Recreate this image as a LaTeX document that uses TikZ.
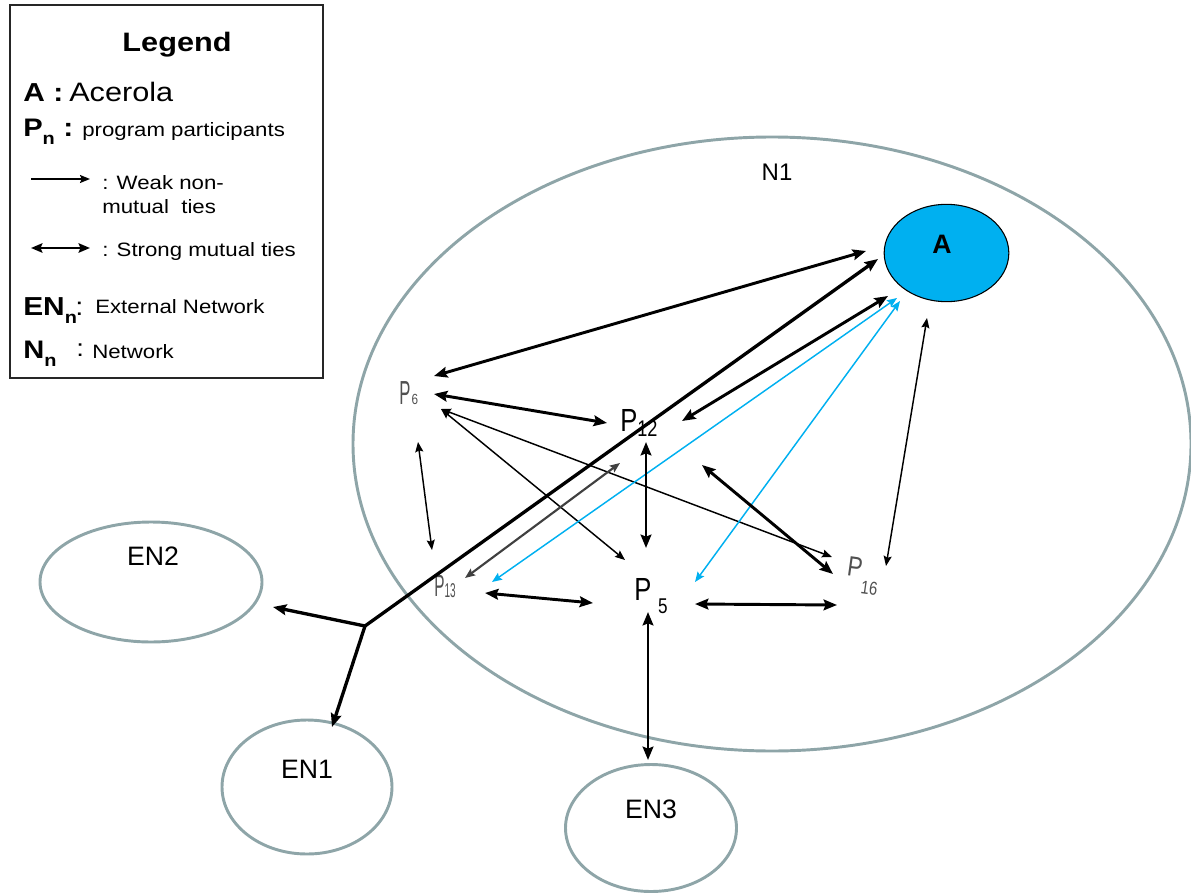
\documentclass[tikz,border=0pt]{standalone}
\usepackage{fontspec}
\setmainfont{Liberation Sans}
\newfontfamily\legfont[FakeStretch=1.15]{Liberation Sans}
\newfontfamily\condfont[FakeStretch=0.5]{Liberation Sans}
\newfontfamily\semifont[FakeStretch=0.8]{Liberation Sans}
\usetikzlibrary{arrows.meta,shapes.geometric}
\definecolor{ringgray}{HTML}{8EA5A8}
\definecolor{acerola}{HTML}{00B0F0}
\definecolor{labgray}{HTML}{505050}
\newcommand\fs[1]{\fontsize{#1}{#1}\selectfont}

\begin{document}
\begin{tikzpicture}[x=0.75pt,y=-0.75pt,
  ring/.style={draw=ringgray, line width=2.2pt, ellipse, inner sep=0pt},
  lg/.style={anchor=base west, inner sep=0pt, font=\legfont},
  lab/.style={inner sep=0pt, anchor=base west},
  bigtip/.tip={Stealth[length=10pt,width=8pt,inset=1.5pt]},
  smalltip/.tip={Stealth[length=7.5pt,width=6pt,inset=1.2pt]},
  strong/.style={line width=2.2pt, bigtip-bigtip},
  weak/.style={line width=1.1pt, smalltip-smalltip},
  bluetie/.style={line width=1.1pt, draw=acerola, smalltip-smalltip},
  greytie/.style={line width=1.6pt, draw=black!75, smalltip-smalltip},
  feed/.style={line width=2.5pt, -bigtip},
  oneway/.style={line width=1pt, -smalltip}]

\useasboundingbox (0,0) rectangle (1191,895);

% ---------------- legend ----------------
\node[draw=black!85, line width=0.9pt, minimum width=234.75pt, minimum height=279.75pt,
      inner sep=0pt] (legbox) at (166.5,191.5) {};
\node[lg, anchor=base] (legtitle) at (177,52) {\fs{20}\bfseries Legend};
\node[lg] (legA) at (23,102) {\fs{19.5}\bfseries A};
\node[lg] (legAc) at (53,102) {\fs{19.5}\bfseries :};
\node[lg] (legAt) at (69,102) {\fs{20}Acerola};
\node[lg] (legP) at (23,137) {\fs{19}\bfseries P\raisebox{-6pt}{\fs{13}n}};
\node[lg] (legPc) at (63,137) {\fs{19.5}\bfseries :};
\node[lg] (legPt) at (82,137) {\fs{14.5}program participants};
\coordinate (lw1) at (31,179);
\coordinate (lw2) at (90,179);
\draw[oneway] (lw1) -- (lw2);
\node[lg] (legW1) at (102,189) {\fs{14.5}: Weak non-};
\node[lg] (legW2) at (102,213) {\fs{14.5}mutual\ \ ties};
\coordinate (ls1) at (31,248);
\coordinate (ls2) at (90,248);
\draw[line width=1.9pt, {Stealth[length=8.5pt,width=7pt,inset=1.3pt]}-{Stealth[length=8.5pt,width=7pt,inset=1.3pt]}] (ls1) -- (ls2);
\node[lg] (legS) at (102,256) {\fs{14.5}: Strong mutual ties};
\node[lg] (legEN) at (23,315) {\fs{19.5}\bfseries EN\raisebox{-6pt}{\fs{13}n}};
\node[lg] (legENc) at (75,315) {\fs{19}:};
\node[lg] (legENt) at (95,313) {\fs{14.5}External Network};
\node[lg] (legN) at (23,358) {\fs{19}\bfseries N\raisebox{-6pt}{\fs{13}n}};
\node[lg] (legNc) at (76,356) {\fs{18}:};
\node[lg] (legNt) at (92,358) {\fs{14.5}Network};

% ---------------- networks ----------------
\node[ring, minimum width=628.5pt, minimum height=460.5pt] (n1) at (772,444) {};
\node[font=\fs{18}] (n1lab) at (777,172) {N1};
\node[ring, minimum width=166.5pt, minimum height=90pt] (en2) at (151,582) {};
\node[font=\fs{20}] (en2lab) at (153,556) {EN2};
\node[ring, minimum width=127.5pt, minimum height=100.5pt] (en1) at (307,787) {};
\node[font=\fs{20}] (en1lab) at (307,769) {EN1};
\node[ring, minimum width=128.25pt, minimum height=95.25pt] (en3) at (651,828) {};
\node[font=\fs{20}] (en3lab) at (651,809) {EN3};

% ---------------- actors ----------------
\node[ellipse, draw=black, line width=0.8pt, fill=acerola, minimum width=93.5pt,
      minimum height=73pt, inner sep=0pt] (A) at (946.5,253) {};
\node[font=\fs{20}\bfseries] (Alab) at (942,244) {A};

\node[lab, text=labgray] (p6) at (399,404)
  {\condfont\fs{25}P\hspace{1pt}\semifont\fs{11}6};
\node[lab] (p12) at (620,431)
  {\semifont\fs{24}P\raisebox{-4pt}{\fs{17}12}};
\node[lab, text=labgray] (p13) at (434,596)
  {\condfont\fs{23}P\raisebox{-1pt}{\fs{15}13}};
\node[lab] (p5) at (634,600)
  {\semifont\fs{24}P\hspace{5pt}\raisebox{-10pt}{\fs{16}5}};
\node[lab, text=labgray, rotate=-8] (p16) at (846,575)
  {\semifont\fs{21}P\hspace{1pt}\raisebox{-12pt}{\fs{14}16}};

% ---------------- tie end points ----------------
\coordinate (A-p6)   at (866,251);
\coordinate (A-j)    at (878,259);
\coordinate (A-p12)  at (888,296);
\coordinate (A-p13)  at (897,298);
\coordinate (A-p5)   at (900,301);
\coordinate (A-p16)  at (927,318);

\coordinate (p6-A)   at (434,376);
\coordinate (p6-p12) at (434,394);
\coordinate (p6-low) at (441,409);
\coordinate (p6-p13) at (418,442);

\coordinate (p12-p6) at (607,423);
\coordinate (p12-A)  at (682,421);
\coordinate (p12-p5) at (646,442);
\coordinate (p12-p13) at (620,463);
\coordinate (p12-p16) at (702,465);

\coordinate (p13-p6) at (432,550);
\coordinate (p13-p12) at (465,578);
\coordinate (p13-A)  at (492,582);
\coordinate (p13-p5) at (485,593);

\coordinate (p5-p6)  at (625,560);
\coordinate (p5-p12) at (646,548);
\coordinate (p5-p13) at (593,603);
\coordinate (p5-A)   at (695,582);
\coordinate (p5-p16) at (695,604);
\coordinate (p5-en3) at (648,612);

\coordinate (p16-p6) at (832,557);
\coordinate (p16-p12) at (833,574);
\coordinate (p16-A)  at (886,566);
\coordinate (p16-p5) at (837,605);

\coordinate (en3-p5) at (648,760);
\coordinate (en2-in) at (273,607);
\coordinate (en1-in) at (332,727);
\coordinate (split)  at (365,626);

% ---------------- ties ----------------
\draw[strong] (A-p6) -- (p6-A);
\draw[strong] (A-p12) -- (p12-A);
\draw[strong] (p6-p12) -- (p12-p6);
\draw[weak] (p6-low) -- (p5-p6);
\draw[weak] (p6-low) -- (p16-p6);
\draw[weak] (p6-p13) -- (p13-p6);
\draw[weak] (A-p16) -- (p16-A);
\draw[bluetie] (A-p13) -- (p13-A);
\draw[bluetie] (A-p5) -- (p5-A);
\draw[greytie] (p12-p13) -- (p13-p12);
\draw[strong] (p12-p5) -- (p5-p12);
\draw[strong] (p12-p16) -- (p16-p12);
\draw[strong] (p13-p5) -- (p5-p13);
\draw[strong] (p5-p16) -- (p16-p5);
\draw[strong] (p5-en3) -- (en3-p5);

% external links leaving the network
\draw[feed] (split) -- (A-j);
\draw[feed] (split) -- (en2-in);
\draw[feed] (split) -- (en1-in);
\end{tikzpicture}
\end{document}
